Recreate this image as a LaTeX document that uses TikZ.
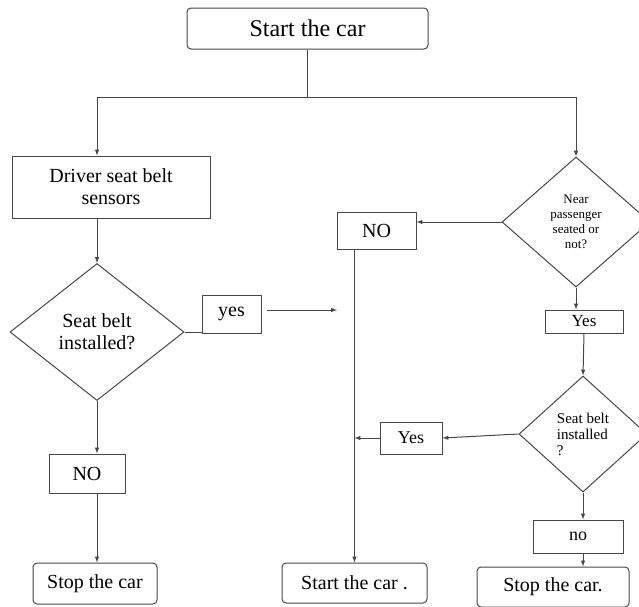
\documentclass[tikz,border=0pt]{standalone}
\usepackage{fontspec}
\setmainfont{Liberation Serif}
\usetikzlibrary{arrows,shapes,positioning,calc}

\begin{document}
\begin{tikzpicture}[x=1pt,y=-1pt,>=latex,line width=1pt,
    every node/.style={inner sep=0pt,font=\fontsize{20}{22}\selectfont},
    sqbox/.style={draw=black!72,rectangle},
    rdbox/.style={draw=black!72,rectangle,rounded corners=4pt},
    ask/.style={draw=black!72,diamond,aspect=1},
    flow/.style={draw=black!72,->}]
                \useasboundingbox (0,0) rectangle (639,606);
                % left branch
                \node[rdbox,minimum width=241pt,minimum height=41pt,font=\fontsize{24}{26}\selectfont] (start) at (307.5,28.5) {Start the car};
                \node[sqbox,minimum width=198pt,minimum height=62pt,align=center] (driver) at (111,187) {Driver seat belt\\sensors};
                \node[ask,minimum width=174pt,minimum height=137pt,align=center] (belt) at (97,332) {Seat belt\\installed?};
                \node[sqbox,minimum width=59pt,minimum height=38pt] (yesa) at (231.5,314) {yes};
                \node[sqbox,minimum width=76pt,minimum height=39pt] (noa) at (87,473.5) {NO};
                \node[rdbox,minimum width=124pt,minimum height=41pt] (stopa) at (95,583.5) {Stop the car};
                % right branch
                \node[ask,minimum width=148pt,minimum height=130pt,align=center,font=\fontsize{13}{15}\selectfont] (near) at (576,222) {Near\\passenger\\seated or\\not?};
                \node[sqbox,minimum width=79pt,minimum height=37pt] (nob) at (376.5,230.5) {NO};
                \node[sqbox,minimum width=78pt,minimum height=23pt,font=\fontsize{17}{19}\selectfont] (yesb) at (584,321.5) {Yes};
                \node[ask,minimum width=128pt,minimum height=116pt,align=left,font=\fontsize{15}{16}\selectfont] (beltb) at (583,434) {Seat belt\\installed\\?};
                \node[sqbox,minimum width=62pt,minimum height=32pt,font=\fontsize{18}{20}\selectfont] (yesc) at (411,438) {Yes};
                \node[sqbox,minimum width=90pt,minimum height=33pt,font=\fontsize{18}{20}\selectfont] (noc) at (578,536.5) {no};
                \node[rdbox,minimum width=145pt,minimum height=40pt] (startb) at (354.5,583) {Start the car .};
                \node[rdbox,minimum width=152pt,minimum height=40pt] (stopb) at (553,587) {Stop the car.};
                \coordinate (split) at (307.5,97);
                \coordinate (leftend) at (97,97);
                \coordinate (yestail) at (267,310);
                \coordinate (yeshead) at (337,310);
                % connectors
                \draw[draw=black!72] (start.south) -- (split);
                \draw[flow] (split) -- (leftend) -- (leftend |- driver.north);
                \draw[flow] (split) -| (near.north);
                \draw[flow] (driver.south -| belt.north) -- (belt.north);
                \draw[draw=black!72] (belt.east) -- (belt.east -| yesa.west);
                \draw[flow] (yestail) -- (yeshead);
                \draw[flow] (belt.south) -- (belt.south |- noa.north);
                \draw[flow] (belt.south |- noa.south) -- (belt.south |- stopa.north);
                \draw[flow] (near.west) -- (near.west -| nob.east);
                \draw[flow] (near.south) -- (near.south |- yesb.north);
                \draw[flow] (yesb.south) -- (beltb.north);
                \draw[flow] (beltb.west) -- (yesc.east);
                \draw[flow] (yesc.west) -- (yesc.west -| startb.north);
                \draw[flow] (startb.north |- nob.south) -- (startb.north);
                \draw[flow] (beltb.south) -- (beltb.south |- noc.north);
                \draw[flow] (beltb.south |- noc.south) -- (beltb.south |- stopb.north);
            \end{tikzpicture}
\end{document}
